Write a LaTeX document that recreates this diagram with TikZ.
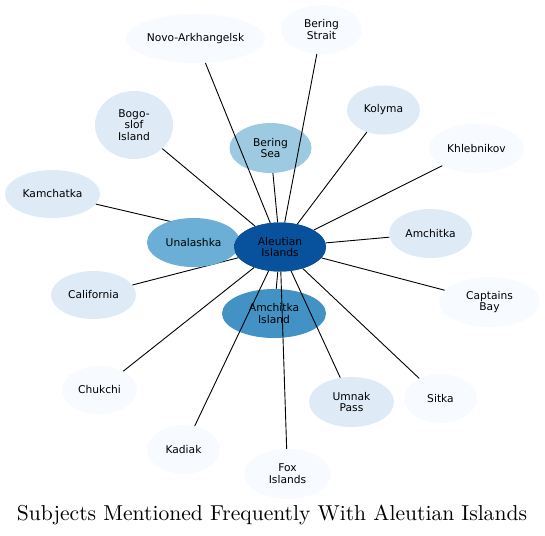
\documentclass[tikz,border=0pt]{standalone}
\usepackage{graphicx}
\usepackage{fontspec}
\setsansfont{DejaVu Sans}
\usetikzlibrary{shapes.geometric}
\definecolor{bA}{HTML}{F7FBFF}
\definecolor{bB}{HTML}{DEEBF7}
\definecolor{bC}{HTML}{9ECAE1}
\definecolor{bD}{HTML}{6BAED6}
\definecolor{bE}{HTML}{4292C6}
\definecolor{bF}{HTML}{08519C}
\begin{document}
\begin{tikzpicture}[x=1pt,y=-1pt,
  bub/.style n args={3}{ellipse, fill=#1, draw=none, minimum width=#2, minimum height=#3,
    inner sep=0pt, align=center, text=black,
    font=\sffamily\fontsize{10.7}{11.8}\selectfont},
  link/.style={draw=black, line width=0.9pt}]
\useasboundingbox (0,0) rectangle (545,535);
% outer nodes
\node[bub={bA}{139}{49}] (novo) at (195.5,38.5) {Novo-Arkhangelsk};
\node[bub={bA}{81}{49}] (strait) at (321.5,29.5) {Bering\\Strait};
\node[bub={bB}{78}{68}] (bogo) at (134,125) {Bogo-\\slof\\Island};
\node[bub={bC}{82}{50}] (sea) at (270.5,148) {Bering\\Sea};
\node[bub={bB}{73}{49}] (kolyma) at (383.5,110) {Kolyma};
\node[bub={bA}{95}{49}] (khleb) at (476.5,148.5) {Khlebnikov};
\node[bub={bB}{95}{48}] (kamch) at (52.5,194) {Kamchatka};
\node[bub={bB}{83}{49}] (amch) at (430.5,233.5) {Amchitka};
\node[bub={bA}{101}{50}] (capt) at (489.5,302) {Captains\\Bay};
\node[bub={bB}{85}{48}] (calif) at (93.5,295) {California};
\node[bub={bE}{104}{49}] (amisl) at (274,313.5) {Amchitka\\Island};
\node[bub={bA}{75}{48}] (chuk) at (99.5,390) {Chukchi};
\node[bub={bB}{85}{50}] (umnak) at (351.5,402) {Umnak\\Pass};
\node[bub={bA}{73}{49}] (sitka) at (440.5,398.5) {Sitka};
\node[bub={bA}{73}{49}] (kadiak) at (183.5,449.5) {Kadiak};
\node[bub={bA}{87}{50}] (fox) at (287.5,474) {Fox\\Islands};
% centre node (filled again on top at the end)
\node[bub={bF}{92}{49}] (aleut) at (280,247) {Aleutian\\Islands};
% edges
\foreach \t in {novo,strait,bogo,sea,kolyma,khleb,kamch,amch,capt,calif,amisl,chuk,umnak,sitka,kadiak,fox}
  \draw[link] (aleut) -- (\t);
\node[bub={bD}{93}{49}] (unal) at (193.5,242.5) {Unalashka};
\draw[link] (aleut) -- (unal);
\node[bub={bF}{92}{49}] (aleuttop) at (aleut) {Aleutian\\Islands};
% title
\node[inner sep=0pt, anchor=base] (title) at (272,520)
  {\resizebox{510pt}{!}{\rmfamily\fontsize{10}{12}\selectfont Subjects Mentioned Frequently With Aleutian Islands}};
\end{tikzpicture}
\end{document}
